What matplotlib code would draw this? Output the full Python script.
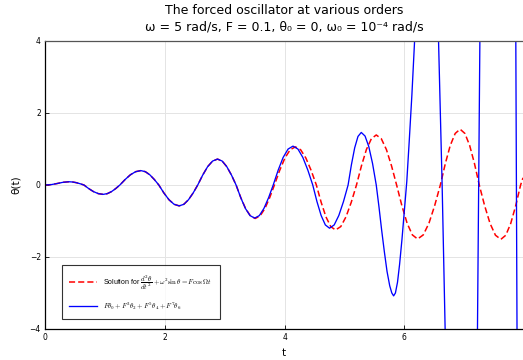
import matplotlib
matplotlib.use("Agg")
import matplotlib.pyplot as plt

# values
# red: full (numerical) solution, blue: perturbation series up to F^7
red_t = [0, 0.10, 0.20, 0.30, 0.40,
         0.463, 0.525, 0.588, 0.65, 0.73, 0.81, 0.89, 0.97,
         1.04, 1.11, 1.18, 1.25, 1.338, 1.425, 1.513, 1.60,
         1.675, 1.75, 1.825, 1.90, 1.985, 2.07, 2.155, 2.24,
         2.318, 2.395, 2.473, 2.55, 2.633, 2.715, 2.798, 2.88,
         2.958, 3.035, 3.113, 3.19, 3.27, 3.35, 3.43, 3.51,
         3.59, 3.67, 3.75, 3.83, 3.918, 4.005, 4.093, 4.18,
         4.268, 4.355, 4.443, 4.53, 4.61, 4.69, 4.77, 4.85,
         4.938, 5.025, 5.113, 5.20, 5.283, 5.365, 5.448, 5.53,
         5.615, 5.70, 5.785, 5.87, 5.958, 6.045, 6.133, 6.22,
         6.315, 6.41, 6.505, 6.60, 6.683, 6.765, 6.848, 6.93,
         7.01, 7.09, 7.17, 7.25, 7.34, 7.43, 7.52, 7.61,
         7.693, 7.775, 7.858, 7.94, 7.98]
red_theta = [0, 0.01, 0.04, 0.075, 0.09,
             0.083, 0.064, 0.034, 0, -0.10, -0.184, -0.24, -0.26,
             -0.24, -0.184, -0.10, 0, 0.153, 0.283, 0.37, 0.40,
             0.37, 0.283, 0.153, 0, -0.222, -0.41, -0.536, -0.58,
             -0.536, -0.41, -0.222, 0, 0.276, 0.509, 0.665, 0.72,
             0.665, 0.509, 0.276, 0, -0.356, -0.658, -0.859, -0.93,
             -0.859, -0.658, -0.356, 0, 0.406, 0.749, 0.979, 1.06,
             0.979, 0.749, 0.406, 0, -0.479, -0.884, -1.155, -1.25,
             -1.155, -0.884, -0.479, 0, 0.532, 0.983, 1.284, 1.39,
             1.284, 0.983, 0.532, 0, -0.575, -1.061, -1.386, -1.50,
             -1.386, -1.061, -0.575, 0, 0.594, 1.096, 1.432, 1.55,
             1.432, 1.096, 0.594, 0, -0.578, -1.068, -1.395, -1.51,
             -1.395, -1.068, -0.578, 0, 0.2]

blue_t = [0, 0.10, 0.20, 0.30, 0.40,
          0.463, 0.525, 0.588, 0.65, 0.73, 0.81, 0.89, 0.97,
          1.04, 1.11, 1.18, 1.25, 1.338, 1.425, 1.513, 1.60,
          1.675, 1.75, 1.825, 1.90, 1.985, 2.07, 2.155, 2.24,
          2.318, 2.395, 2.473, 2.55, 2.633, 2.715, 2.798, 2.88,
          2.958, 3.035, 3.113, 3.19, 3.268, 3.345, 3.423, 3.50,
          3.578, 3.655, 3.733, 3.81, 3.893, 3.975, 4.058, 4.14,
          4.223, 4.305, 4.388, 4.47, 4.54, 4.61, 4.68, 4.75,
          4.828, 4.905, 4.983, 5.06, 5.115, 5.17, 5.225, 5.28,
          5.343, 5.405, 5.468, 5.53, 5.575, 5.62, 5.665, 5.71,
          5.755, 5.79, 5.82, 5.85, 5.885, 5.92, 5.96, 6.00,
          6.04, 6.08, 6.125, 6.17, 6.27, 6.37, 6.47, 6.57,
          6.63, 6.68, 6.80, 6.95, 7.10, 7.22, 7.24, 7.26,
          7.40, 7.56, 7.72, 7.86, 7.87, 7.88, 7.98]
blue_theta = [0, 0.01, 0.04, 0.075, 0.09,
              0.083, 0.064, 0.034, 0, -0.10, -0.184, -0.24, -0.26,
              -0.24, -0.184, -0.10, 0, 0.153, 0.283, 0.37, 0.40,
              0.37, 0.283, 0.153, 0, -0.222, -0.41, -0.536, -0.58,
              -0.536, -0.41, -0.222, 0, 0.276, 0.509, 0.665, 0.72,
              0.665, 0.509, 0.276, 0, -0.352, -0.65, -0.85, -0.92,
              -0.85, -0.65, -0.352, 0, 0.414, 0.764, 0.998, 1.08,
              0.998, 0.764, 0.414, 0, -0.46, -0.848, -1.109, -1.20,
              -1.109, -0.848, -0.46, 0, 0.559, 1.032, 1.349, 1.46,
              1.36, 1.07, 0.6, 0, -0.6, -1.25, -1.85, -2.4,
              -2.8, -3.0, -3.08, -3.0, -2.7, -2.2, -1.5, -0.7,
              0.1, 1.2, 2.5, 4.0, 7.0, 8.2, 7.0, 4.0,
              0, -4.0, -12, -16, -12, -4.0, 0, 4.0,
              20, 26, 20, 4.0, 0, -4.0, -30]

x_ticks = [0, 2, 4, 6]
y_ticks = [-4, -2, 0, 2, 4]

plt.rcParams["mathtext.fontset"] = "cm"

fig = plt.figure(figsize=(5.23, 3.6), dpi=100)
ax = fig.add_axes([45 / 523, 31 / 360, 478 / 523, 288 / 360])

ax.plot(red_t, red_theta, color="red", lw=1.1, dashes=(4, 2),
        label=r"Solution for $\dfrac{d^2\theta}{dt^2} + \omega^2\sin\theta = F\cos\Omega t$")
ax.plot(blue_t, blue_theta, color="blue", lw=0.95,
        label=r"$F\theta_0 + F^3\theta_2 + F^5\theta_4 + F^7\theta_6$")

ax.set_xlim(0, 7.98)
ax.set_ylim(-4, 4)
ax.set_xticks(x_ticks)
ax.set_yticks(y_ticks)
ax.tick_params(direction="in", length=3, width=0.6, labelsize=5.5, pad=3)
ax.grid(color="#e4e4e4", lw=0.7)
ax.set_axisbelow(True)

ax.spines["right"].set_visible(False)
ax.spines["top"].set_color("#555555")
for s in ["left", "bottom", "top"]:
    ax.spines[s].set_linewidth(0.9)

ax.set_xlabel("t", fontsize=7.5, labelpad=4)
ax.set_ylabel("θ(t)", fontsize=7.5, labelpad=6)

fig.text(284 / 523, 1 - 10 / 360, "The forced oscillator at various orders",
         ha="center", va="center", fontsize=9)
fig.text(284 / 523, 1 - 27 / 360, "ω = 5 rad/s, F = 0.1, θ₀ = 0, ω₀ = 10⁻⁴ rad/s",
         ha="center", va="center", fontsize=9)

leg = ax.legend(loc="lower left", bbox_to_anchor=(0.035, 0.034),
                prop={"family": "Liberation Sans", "size": 5},
                frameon=True, fancybox=False, borderaxespad=0,
                handlelength=4.0, handletextpad=0.9, borderpad=1.1,
                labelspacing=1.25)
leg.get_frame().set_edgecolor("black")
leg.get_frame().set_linewidth(0.8)

fig.savefig("out.png", dpi=100)
